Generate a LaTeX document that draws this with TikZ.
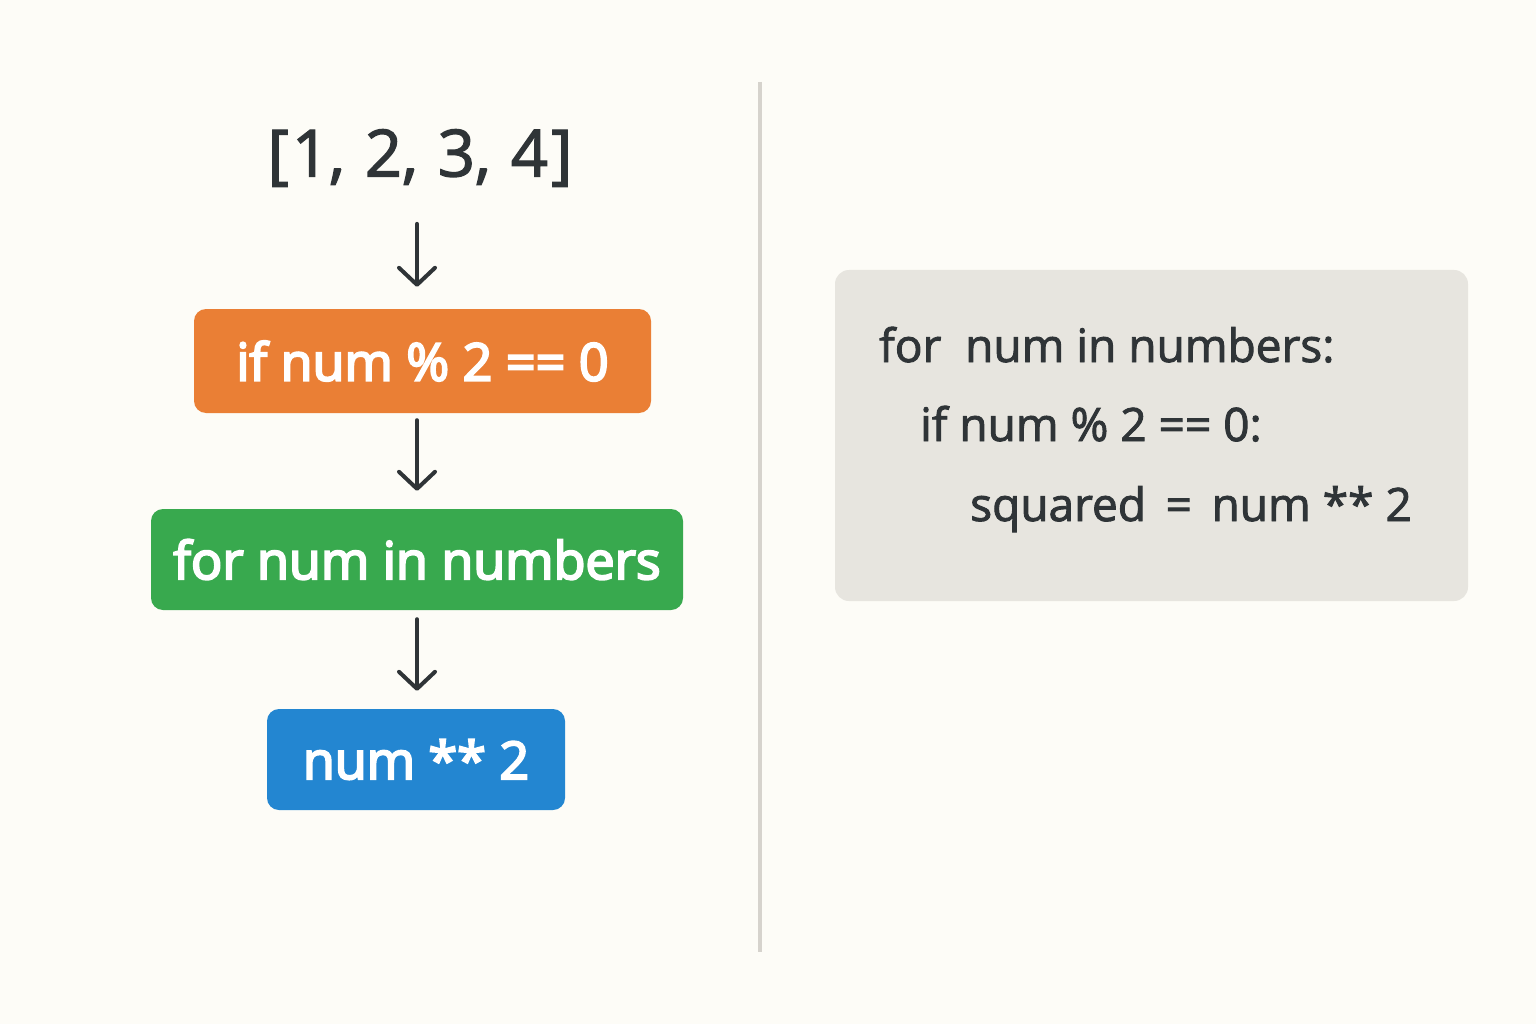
\documentclass[tikz,border=0pt]{standalone}
\usepackage{fontspec}
\setmainfont{Open Sans}
\newfontfamily\semib[FakeBold=4]{Open Sans}
\newfontfamily\medf[FakeBold=2]{Open Sans}
\usetikzlibrary{arrows.meta}
\definecolor{bg}{HTML}{FDFCF7}
\definecolor{ink}{HTML}{2F3437}
\definecolor{orangebox}{HTML}{EA7F35}
\definecolor{greenbox}{HTML}{38A94E}
\definecolor{bluebox}{HTML}{2386D1}
\definecolor{codebg}{HTML}{E7E5DF}
\definecolor{divider}{HTML}{D6D3CD}
\tikzset{
  flowbox/.style={rounded corners=12pt, text=white, inner sep=0pt, font=\semib\fontsize{52}{60}\selectfont},
  arr/.style={draw=ink, line width=4pt, line cap=round, -{Straight Barb[length=17pt,width=36pt,line width=4pt,round]}},
  codeline/.style={anchor=base west, text=ink, inner sep=0pt, font=\medf\fontsize{46}{54}\selectfont},
}
\begin{document}
\begin{tikzpicture}[x=1pt,y=-1pt]
\useasboundingbox (0,0) rectangle (1536,1024);
\fill[bg] (0,0) rectangle (1536,1024);
% divider
\draw[divider, line width=4pt] (760,82) -- (760,952);
\coordinate (xa) at (417,0);
% left flow
\node[text=ink, inner sep=0pt, font=\medf\fontsize{65}{72}\selectfont] (list) at (420,158) {[\hspace{3pt}1, \hspace{3pt}2, \hspace{3pt}3, \hspace{3pt}4\hspace{3pt}]};
\node[flowbox, fill=orangebox, minimum width=457pt, minimum height=104pt] (ifbox) at (422.5,361) {if num \% 2 == 0};
\node[flowbox, fill=greenbox, minimum width=532pt, minimum height=101pt] (forbox) at (417,559.5) {for num in numbers};
\node[flowbox, fill=bluebox, minimum width=298pt, minimum height=101pt] (sqbox) at (416,759.5) {num ** 2};
\draw[arr, shorten <=37pt, shorten >=22pt] (list.south -| xa) -- (ifbox.north -| xa);
\draw[arr, shorten <=7pt, shorten >=18pt] (ifbox.south -| xa) -- (forbox.north -| xa);
\draw[arr, shorten <=9pt, shorten >=18pt] (forbox.south -| xa) -- (sqbox.north -| xa);
% code panel
\node[fill=codebg, rounded corners=14pt, minimum width=633pt, minimum height=331pt, inner sep=0pt] (code) at (1151.5,435.5) {};
\node[codeline] (l1) at (879,362) {for\ \ num in numbers:};
\node[codeline] (l2) at (920,441) {if num \% 2 == 0:};
\node[codeline] (l3) at (970,521) {squared \,=\, num ** 2};
\end{tikzpicture}
\end{document}
